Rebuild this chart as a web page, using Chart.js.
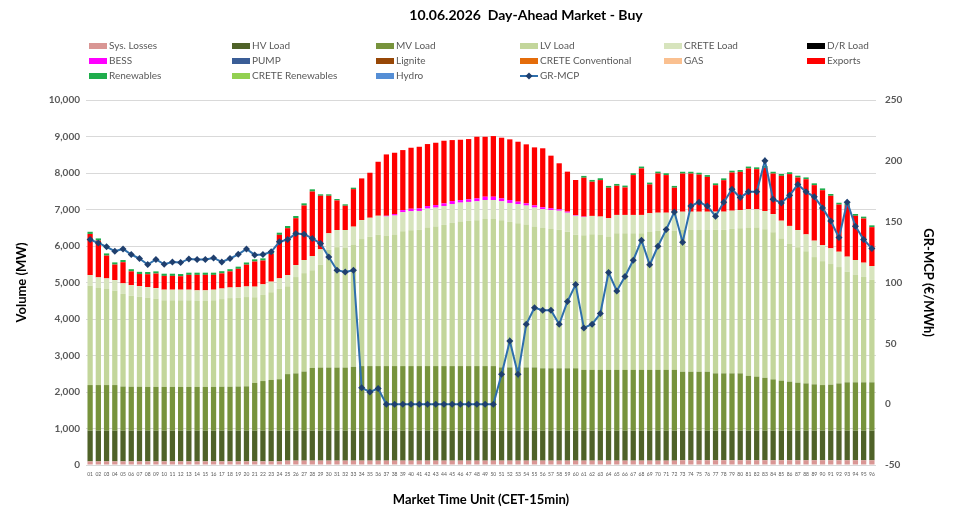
<!DOCTYPE html>
<html>
<head>
<meta charset="utf-8">
<title>10.06.2026 Day-Ahead Market - Buy</title>
<script src="https://cdn.jsdelivr.net/npm/chart.js"></script>
<style>
  html, body { margin: 0; padding: 0; background: #fff; }
</style>
</head>
<body>
<canvas id="chart" width="953" height="526"></canvas>
<script>
const TITLE = "10.06.2026  Day-Ahead Market - Buy";
const MTU = Array.from({ length: 96 }, (_, i) => String(i + 1).padStart(2, "0"));

// MW per market time unit
const SYS_LOSSES = [100,100,100,100,100,100,100,100,100,100,100,100,100,100,100,100,100,100,100,100,100,100,100,100,
  120,120,120,120,120,120,120,120,120,120,120,120,120,120,120,120,120,120,120,120,120,120,120,120,
  120,120,120,120,120,120,120,120,120,120,120,120,120,120,120,120,120,120,120,120,120,120,120,120,
  130,130,130,130,130,130,130,130,130,130,130,130,130,130,130,130,130,130,130,130,130,130,130,130];
const HV_LOAD = [840,840,840,840,840,840,840,840,840,840,840,840,840,840,840,840,840,840,840,840,840,840,840,840,
  820,820,820,820,820,820,820,820,820,820,820,820,820,820,820,820,820,820,820,820,820,820,820,820,
  820,820,820,820,820,820,820,820,820,820,820,820,820,820,820,820,820,820,820,820,820,820,820,820,
  810,810,810,810,810,810,810,810,810,810,810,810,810,810,810,810,810,810,810,810,810,810,810,810];
const MV_LOAD = [1250,1250,1250,1250,1210,1205,1205,1200,1200,1200,1200,1200,1200,1200,1200,1200,1205,1205,1210,1215,1310,1360,1390,1410,
  1550,1570,1620,1720,1730,1730,1730,1730,1750,1770,1770,1770,1770,1770,1770,1770,1770,1770,1770,1770,1770,1770,1770,1770,
  1770,1770,1735,1735,1735,1735,1735,1710,1710,1710,1710,1710,1665,1665,1665,1665,1665,1665,1665,1665,1665,1665,1665,1665,
  1615,1615,1615,1615,1570,1570,1570,1570,1500,1480,1450,1405,1370,1345,1315,1295,1270,1250,1260,1295,1325,1325,1325,1325];
const LV_LOAD = [2723,2660,2632,2586,2537,2492,2464,2446,2418,2373,2373,2373,2373,2355,2355,2373,2400,2428,2428,2446,2346,2360,2403,2474,
  2405,2639,2696,2676,2819,3228,3298,3288,3350,3480,3544,3599,3579,3605,3694,3721,3730,3794,3821,3867,3921,3958,3977,3994,
  4030,4030,4030,3984,3949,3913,3858,3840,3813,3796,3742,3660,3691,3719,3701,3655,3746,3746,3746,3746,3792,3807,3807,3807,
  3884,3884,3884,3884,3930,3930,3957,3975,4067,4085,4068,4030,3893,3785,3712,3623,3486,3395,3306,3188,3033,2951,2888,2807];
const CRETE_LOAD = [290,290,290,290,290,290,290,290,290,290,290,290,290,290,290,290,290,290,290,290,290,290,290,290,
  310,330,360,390,420,450,470,480,490,520,520,520,520,520,520,520,520,520,520,520,520,520,520,520,
  520,520,520,520,520,520,520,520,520,520,520,520,500,500,500,500,500,500,500,500,500,500,500,500,
  500,500,500,500,500,500,500,500,500,500,500,500,490,480,470,460,450,440,430,420,410,400,390,380];
const BESS = [0,0,0,0,0,0,0,0,0,0,0,0,0,0,0,0,0,0,0,0,0,0,0,0,
  0,0,0,0,0,0,0,0,0,0,0,0,20,40,60,70,70,70,70,70,80,70,70,80,
  90,90,80,80,70,60,60,50,50,40,30,20,10,0,0,0,0,0,0,0,0,0,0,0,
  0,0,0,0,0,0,0,0,0,0,0,0,0,0,0,0,0,0,0,0,0,0,0,0];
const EXPORTS = [1127,1008,625,425,579,378,333,351,397,378,378,369,406,424,424,406,415,442,506,597,689,652,762,1191,
  1283,1283,1493,1767,1467,1028,810,664,1028,1142,1233,1479,1680,1680,1644,1671,1689,1699,1708,1717,1671,1653,1653,1689,
  1643,1662,1662,1663,1643,1617,1589,1617,1442,1260,1095,959,1064,936,1000,836,799,754,1092,1275,790,1076,1031,684,
  1045,1045,1018,954,726,863,1046,1046,1119,1100,1182,1109,1229,1420,1439,1511,1521,1503,1439,1292,1411,1211,1211,1064];
const RENEWABLES = [60,60,60,60,60,60,60,60,60,60,60,60,60,60,60,60,60,60,60,60,60,60,60,60,
  60,60,60,60,40,40,40,40,40,0,0,0,0,0,0,0,0,0,0,0,0,0,0,0,
  0,0,0,0,0,0,0,0,0,0,0,0,50,50,50,50,50,50,50,50,50,50,50,50,
  50,50,50,50,50,50,50,50,50,50,50,50,50,50,50,50,50,50,50,50,50,50,50,50];
// series with no volume on this day
const DR_LOAD = [];
const PUMP = [];
const LIGNITE = [];
const CRETE_CONVENTIONAL = [];
const GAS = [];
const CRETE_RENEWABLES = [];
const HYDRO = [];

// €/MWh
const GR_MCP = [135.3,132.5,129.3,125.7,127.6,123.0,119.7,114.8,118.9,115.0,116.9,116.4,119.4,118.9,118.9,120.2,116.9,119.7,123.2,127.6,122.7,123.0,125.2,133.4,
  135.3,140.2,139.7,136.2,132.0,121.0,110.1,108.7,110.1,13.4,10.1,12.9,0,0,0,0,0,0,0,0,0,0,0,0,
  0,0,24.6,52.0,24.6,65.7,79.2,77.2,77.2,65.7,84.3,98.3,62.7,65.7,74.5,108.2,93.1,104.9,118.3,134.8,114.5,129.8,143.5,158.0,
  133.1,162.9,166.0,162.9,154.5,166.0,176.7,169.8,174.5,174.5,200.0,168.4,165.4,171.7,180.5,174.5,170.4,161.3,150.6,137.0,166.0,146.3,135.3,128.0];

const FONT = "Lato, 'DejaVu Sans', sans-serif";
const GREY = "#595959";

function bar(label, data, color) {
  return { type: "bar", label: label, data: data, backgroundColor: color, yAxisID: "y", stack: "buy", order: 1 };
}

// title + 6-column legend, the way the source sheet lays it out
const sheetLegend = {
  id: "sheetLegend",
  afterDraw(chart) {
    const ctx = chart.ctx;
    const cols = [89, 232, 376, 520, 664, 807];
    const rows = [46, 61, 76];
    ctx.save();
    ctx.textBaseline = "middle";
    ctx.textAlign = "center";
    ctx.font = "bold 14px " + FONT;
    ctx.fillStyle = "#000";
    ctx.fillText(TITLE, 526, 15);
    ctx.textAlign = "left";
    ctx.font = "10px " + FONT;
    chart.data.datasets.forEach((ds, i) => {
      const x = cols[i % 6], y = rows[Math.floor(i / 6)];
      if (ds.type === "line") {
        ctx.strokeStyle = ds.borderColor;
        ctx.lineWidth = 2;
        ctx.beginPath(); ctx.moveTo(x, y); ctx.lineTo(x + 18, y); ctx.stroke();
        ctx.fillStyle = ds.pointBackgroundColor;
        ctx.beginPath();
        ctx.moveTo(x + 9, y - 3.5); ctx.lineTo(x + 12.5, y); ctx.lineTo(x + 9, y + 3.5); ctx.lineTo(x + 5.5, y);
        ctx.closePath(); ctx.fill();
      } else {
        ctx.fillStyle = ds.backgroundColor;
        ctx.fillRect(x, y - 3, 18, 6);
      }
      ctx.fillStyle = GREY;
      ctx.fillText(ds.label, x + 20, y);
    });
    ctx.restore();
  }
};

new Chart(document.getElementById("chart"), {
  data: {
    labels: MTU,
    datasets: [
      bar("Sys. Losses", SYS_LOSSES, "#d99694"),
      bar("HV Load", HV_LOAD, "#4f6228"),
      bar("MV Load", MV_LOAD, "#77933c"),
      bar("LV Load", LV_LOAD, "#c3d69b"),
      bar("CRETE Load", CRETE_LOAD, "#d7e4bd"),
      bar("D/R Load", DR_LOAD, "#000000"),
      bar("BESS", BESS, "#ff00ff"),
      bar("PUMP", PUMP, "#3a5d96"),
      bar("Lignite", LIGNITE, "#974706"),
      bar("CRETE Conventional", CRETE_CONVENTIONAL, "#e46c0a"),
      bar("GAS", GAS, "#fac090"),
      bar("Exports", EXPORTS, "#ff0000"),
      bar("Renewables", RENEWABLES, "#1fad4c"),
      bar("CRETE Renewables", CRETE_RENEWABLES, "#92d050"),
      bar("Hydro", HYDRO, "#558ed5"),
      {
        type: "line", label: "GR-MCP", data: GR_MCP, yAxisID: "y1", order: 0,
        borderColor: "#2e6fac", borderWidth: 2, tension: 0,
        pointStyle: "rectRot", pointRadius: 3.5, pointBackgroundColor: "#1f3f6e", pointBorderColor: "#1f3f6e", pointBorderWidth: 0
      }
    ]
  },
  options: {
    responsive: false,
    animation: false,
    layout: { padding: { top: 100, left: 0, right: 0, bottom: 0 } },
    datasets: { bar: { barPercentage: 0.64, categoryPercentage: 1 } },
    plugins: { legend: { display: false }, tooltip: { enabled: false }, title: { display: false } },
    scales: {
      x: {
        stacked: true,
        grid: { display: false, drawTicks: false },
        border: { display: false },
        ticks: { autoSkip: false, maxRotation: 0, padding: 6, color: GREY, font: { family: FONT, size: 5 } },
        title: { display: true, text: "Market Time Unit (CET-15min)", color: "#000", font: { family: FONT, size: 13, weight: "bold" }, padding: { top: 0, bottom: 18 } },
        afterFit(scale) { scale.height = 61; }
      },
      y: {
        stacked: true, position: "left", min: 0, max: 10000,
        grid: { color: "#d9d9d9", drawTicks: false },
        border: { display: false },
        ticks: { stepSize: 1000, padding: 6, color: GREY, font: { family: FONT, size: 10, weight: "bold" } },
        title: { display: true, text: "Volume (MW)", color: "#000", font: { family: FONT, size: 13, weight: "bold" }, padding: { top: 14, bottom: 0 } },
        afterFit(scale) { scale.width = 86; }
      },
      y1: {
        position: "right", min: -50, max: 250,
        grid: { display: false, drawTicks: false },
        border: { display: false },
        ticks: { stepSize: 50, padding: 9, color: GREY, font: { family: FONT, size: 10, weight: "bold" } },
        title: { display: true, text: "GR-MCP (€/MWh)", color: "#000", font: { family: FONT, size: 13, weight: "bold" }, padding: { top: 17, bottom: 0 } },
        afterFit(scale) { scale.width = 77; }
      }
    }
  },
  plugins: [sheetLegend]
});
</script>
</body>
</html>
